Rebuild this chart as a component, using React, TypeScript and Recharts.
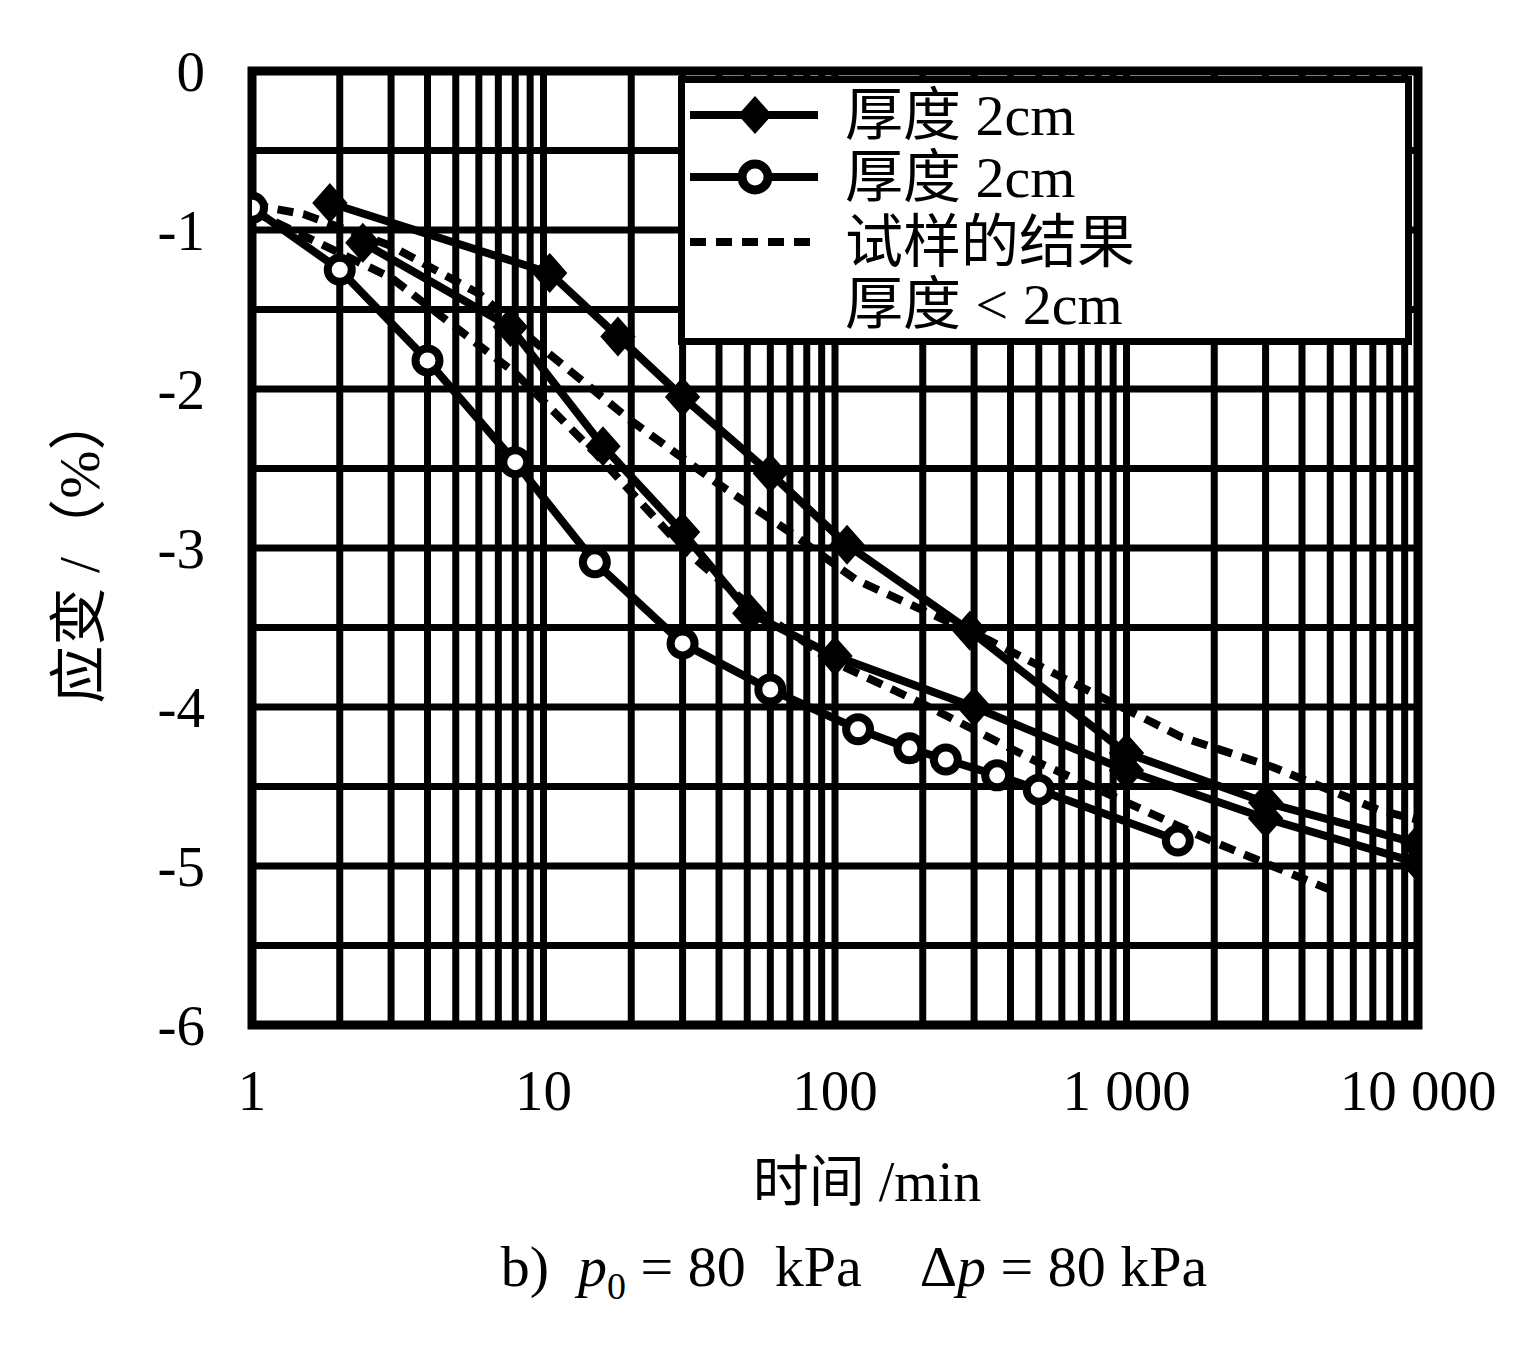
import React from "react";
import { CartesianGrid, Legend, Line, LineChart, ReferenceArea, XAxis, YAxis } from "recharts";

const SERIF = '"Liberation Serif", "Noto Sans CJK SC", serif';

// axis ticks
const decades = [1, 10, 100, 1000, 10000];
const decadeLabels = ["1", "10", "100", "1 000", "10 000"];
const minorSteps = [1, 2, 3, 4, 5, 6, 7, 8, 9];
const strainTicks = [0, -0.5, -1, -1.5, -2, -2.5, -3, -3.5, -4, -4.5, -5, -5.5, -6];

// 厚度 2cm, open circles
const openTime = [1, 2, 4, 8, 15, 30, 60, 120, 180, 240, 360, 500, 1500];
const openStrain = [-0.86, -1.25, -1.82, -2.46, -3.09, -3.6, -3.89, -4.14, -4.26, -4.33, -4.43, -4.52, -4.84];

// 厚度 2cm, filled markers (upper and middle runs)
const filledTimeA = [1.85, 10.5, 18, 30, 60, 110, 290, 1000, 3000, 10000];
const filledStrainA = [-0.83, -1.27, -1.67, -2.05, -2.53, -2.98, -3.52, -4.29, -4.6, -4.86];
const filledTimeB = [2.4, 7.7, 16, 30, 51, 100, 300, 1000, 3000, 10000];
const filledStrainB = [-1.08, -1.61, -2.36, -2.9, -3.41, -3.68, -4.0, -4.4, -4.7, -4.98];

// 试样的结果 厚度 < 2cm (dashed)
const thinTimeA = [1, 1.5, 3, 6, 10, 20, 40, 70, 118, 337, 625, 1550, 3200, 7400, 10000];
const thinStrainA = [-0.84, -0.9, -1.1, -1.4, -1.75, -2.2, -2.6, -2.9, -3.2, -3.58, -3.83, -4.19, -4.38, -4.65, -4.71];
const thinTimeB = [1, 3, 8, 15, 30, 50, 100, 200, 500, 1000, 2000, 5000];
const thinStrainB = [-0.88, -1.3, -1.9, -2.4, -3.0, -3.35, -3.72, -3.98, -4.35, -4.6, -4.85, -5.15];

const timeTicks = decades.flatMap((d, i) =>
  i === decades.length - 1 ? [d] : minorSteps.map((m) => d * m)
);

const toPoints = (t: number[], s: number[]) => t.map((x, i) => ({ x, y: s[i] }));

const formatTime = (v: number) => {
  const i = decades.indexOf(v);
  return i >= 0 ? decadeLabels[i] : "";
};
const formatStrain = (v: number) => (Number.isInteger(v) ? String(v) : "");

function Diamond(props: any) {
  const { cx, cy, index } = props;
  if (cx == null || cy == null) return <g key={index} />;
  return (
    <path
      key={index}
      d={`M${cx},${cy - 17} L${cx + 15},${cy} L${cx},${cy + 17} L${cx - 15},${cy} Z`}
      fill="#000"
      stroke="#000"
      strokeWidth={4}
    />
  );
}

function LegendBox() {
  const rows = [39, 101, 166, 228];
  const textX = 167;
  return (
    <svg width={734} height={269} style={{ display: "block" }}>
      <rect x={3.5} y={3.5} width={727} height={262} fill="#fff" stroke="#000" strokeWidth={7} />
      <line x1={12} x2={140} y1={rows[0]} y2={rows[0]} stroke="#000" strokeWidth={8} />
      <path d={`M77,${rows[0] - 19} L94,${rows[0]} L77,${rows[0] + 19} L60,${rows[0]} Z`} fill="#000" />
      <line x1={12} x2={140} y1={rows[1]} y2={rows[1]} stroke="#000" strokeWidth={8} />
      <circle cx={77} cy={rows[1]} r={13} fill="#fff" stroke="#000" strokeWidth={9} />
      <line x1={12} x2={140} y1={rows[2]} y2={rows[2]} stroke="#000" strokeWidth={8} strokeDasharray="16 10" />
      <g fontFamily={SERIF} fontSize={58} fill="#000">
        <text x={textX} y={rows[0] + 20}>厚度 2cm</text>
        <text x={textX} y={rows[1] + 20}>厚度 2cm</text>
        <text x={textX} y={rows[2] + 20}>试样的结果</text>
        <text x={textX} y={rows[3] + 20}>厚度 &lt; 2cm</text>
      </g>
    </svg>
  );
}

export default function App() {
  const tick = { fontFamily: SERIF, fontSize: 57, fill: "#000" };
  return (
    <div style={{ position: "relative", width: 1520, height: 1330, fontFamily: SERIF, color: "#000" }}>
      <LineChart width={1520} height={1330} margin={{ top: 63, right: 110, bottom: 233, left: 0 }}>
        <CartesianGrid stroke="#000" strokeWidth={7} />
        <XAxis
          type="number"
          dataKey="x"
          scale="log"
          domain={[1, 10000]}
          allowDataOverflow
          ticks={timeTicks}
          interval={0}
          tickFormatter={formatTime}
          axisLine={false}
          tickLine={false}
          tickSize={0}
          tickMargin={45}
          height={80}
          tick={tick}
        />
        <YAxis
          type="number"
          dataKey="y"
          domain={[-6, 0]}
          allowDataOverflow
          ticks={strainTicks}
          interval={0}
          tickFormatter={formatStrain}
          axisLine={false}
          tickLine={false}
          tickSize={0}
          tickMargin={47}
          width={244}
          tick={tick}
        />
        <ReferenceArea x1={1} x2={10000} y1={-6} y2={0} fill="none" stroke="#000" strokeWidth={9} />
        <Line
          data={toPoints(thinTimeA, thinStrainA)}
          dataKey="y"
          type="linear"
          stroke="#000"
          strokeWidth={8}
          strokeDasharray="16 10"
          dot={false}
          isAnimationActive={false}
        />
        <Line
          data={toPoints(thinTimeB, thinStrainB)}
          dataKey="y"
          type="linear"
          stroke="#000"
          strokeWidth={8}
          strokeDasharray="16 10"
          dot={false}
          isAnimationActive={false}
        />
        <Line
          data={toPoints(filledTimeA, filledStrainA)}
          dataKey="y"
          type="linear"
          stroke="#000"
          strokeWidth={8}
          dot={Diamond}
          isAnimationActive={false}
        />
        <Line
          data={toPoints(filledTimeB, filledStrainB)}
          dataKey="y"
          type="linear"
          stroke="#000"
          strokeWidth={8}
          dot={Diamond}
          isAnimationActive={false}
        />
        <Line
          data={toPoints(openTime, openStrain)}
          dataKey="y"
          type="linear"
          stroke="#000"
          strokeWidth={8}
          dot={{ r: 12, fill: "#fff", stroke: "#000", strokeWidth: 8 }}
          isAnimationActive={false}
        />
        <Legend
          layout="horizontal"
          verticalAlign="middle"
          align="center"
          wrapperStyle={{ left: 670, top: 68, width: 734, height: 269 }}
          content={() => <LegendBox />}
        />
      </LineChart>

      <div
        style={{
          position: "absolute",
          left: 72,
          top: 540,
          transform: "translate(-50%, -50%) rotate(-90deg)",
          fontSize: 58,
          lineHeight: "58px",
          whiteSpace: "nowrap",
        }}
      >
        应变 /（%）
      </div>
      <div
        style={{
          position: "absolute",
          left: 859,
          top: 1146,
          transform: "translateX(-50%)",
          fontSize: 56,
          lineHeight: "56px",
          whiteSpace: "nowrap",
        }}
      >
        时间 /min
      </div>
      <div
        style={{
          position: "absolute",
          left: 846,
          top: 1230,
          transform: "translateX(-50%)",
          fontSize: 58,
          lineHeight: "58px",
          whiteSpace: "pre",
        }}
      >
        {"b)  "}
        <i>p</i>
        <sub style={{ fontSize: 38 }}>0</sub>
        {" = 80  kPa    Δ"}
        <i>p</i>
        {" = 80 kPa"}
      </div>
    </div>
  );
}
